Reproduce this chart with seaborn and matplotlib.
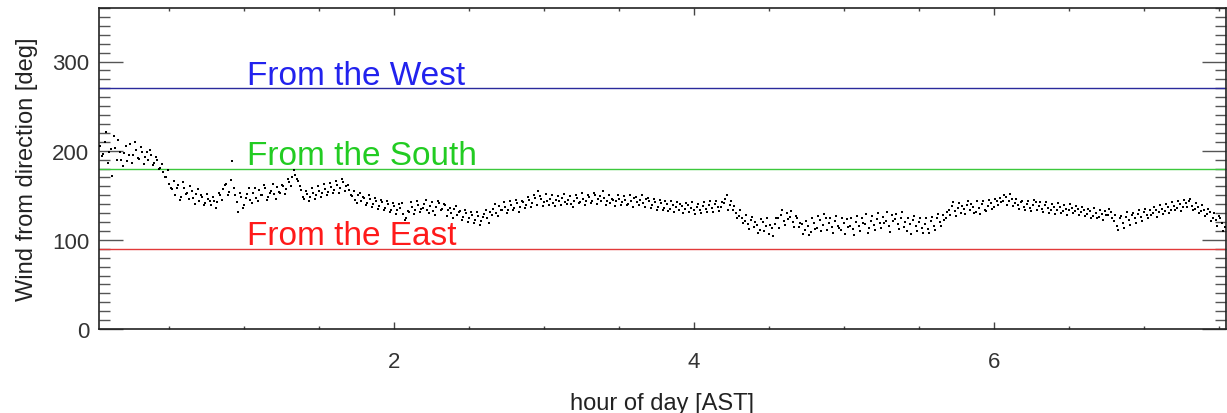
import numpy as np
import pandas as pd
import matplotlib
matplotlib.use("Agg")
import matplotlib.pyplot as plt
from matplotlib.ticker import MultipleLocator
import seaborn as sns

# wind direction samples, every 0.02 h from 0.04 h
t_start = 0.04
t_step = 0.02
wind_dir = [
    # 0.04 - 0.52
    205, 196, 221, 199, 172, 203, 212, 190, 197, 188, 207, 195, 201, 191, 198, 193, 189, 195, 186, 190, 181, 176, 170, 163, 157,
    # 0.54 - 1.02
    150, 162, 148, 158, 153, 160, 147, 151, 144, 148, 141, 146, 139, 144, 142, 150, 157, 163, 154, 188, 150, 131, 148, 139, 151,
    # 1.04 - 1.52
    145, 152, 147, 156, 150, 158, 148, 155, 151, 159, 153, 160, 157, 165, 170, 173, 166, 156, 146, 151, 148, 153, 150, 155, 152,
    # 1.54 - 2.02
    157, 154, 159, 156, 161, 158, 165, 160, 156, 149, 145, 150, 143, 147, 141, 146, 140, 144, 138, 142, 136, 140, 134, 138, 133,
    # 2.04 - 2.52
    136, 129, 125, 131, 137, 133, 139, 135, 140, 134, 138, 132, 137, 141, 135, 139, 133, 130, 135, 128, 132, 126, 130, 124, 128,
    # 2.54 - 3.02
    122, 127, 121, 129, 124, 131, 135, 130, 138, 133, 137, 134, 139, 136, 141, 137, 142, 139, 145, 141, 147, 155, 146, 142, 143,
    # 3.04 - 3.52
    146, 141, 145, 143, 147, 142, 145, 140, 144, 147, 142, 146, 143, 148, 144, 150, 146, 143, 147, 144, 141, 145, 143, 146, 142,
    # 3.54 - 4.02
    145, 140, 144, 147, 142, 145, 141, 146, 143, 139, 142, 137, 141, 136, 140, 135, 139, 137, 134, 138, 135, 139, 136, 133, 137,
    # 4.04 - 4.52
    134, 138, 135, 139, 136, 140, 137, 137, 141, 150, 139, 134, 130, 127, 124, 121, 118, 122, 114, 117, 111, 120, 115, 106, 113,
    # 4.54 - 5.02
    118, 124, 128, 121, 130, 126, 120, 127, 114, 118, 111, 116, 109, 119, 113, 122, 117, 125, 119, 114, 121, 116, 111, 119, 123,
    # 5.04 - 5.52
    116, 112, 120, 115, 124, 118, 108, 121, 117, 123, 119, 126, 121, 115, 128, 123, 118, 124, 114, 110, 118, 122, 115, 120, 113,
    # 5.54 - 6.02
    118, 112, 121, 116, 124, 120, 128, 125, 133, 138, 132, 136, 130, 135, 139, 133, 137, 131, 136, 140, 134, 138, 141, 137, 143,
    # 6.04 - 6.52
    147, 144, 148, 143, 146, 141, 139, 142, 137, 140, 136, 139, 142, 138, 135, 139, 136, 133, 137, 134, 137, 132, 135, 133, 136,
    # 6.54 - 7.02
    132, 135, 131, 134, 129, 132, 127, 130, 126, 129, 132, 128, 131, 121, 116, 124, 119, 126, 122, 128, 124, 129, 126, 131, 128,
    # 7.04 - 7.54
    133, 130, 134, 131, 135, 132, 137, 134, 138, 136, 140, 137, 141, 143, 138, 135, 137, 132, 134, 129, 131, 125, 122, 127, 119, 114,
]

# in-between samples (0.05 h, 0.07 h, ...) showing the spread of the band
t_start_b = 0.05
wind_dir_b = [
    194, 210, 186, 202, 217, 189, 198, 183, 205, 195, 186, 210, 192, 204, 185, 199, 201, 184, 193, 179, 185, 171, 178, 158, 166,
    158, 145, 165, 151, 146, 155, 140, 157, 150, 139, 151, 143, 148, 136, 153, 145, 162, 150, 167, 158, 142, 153, 136, 147, 158,
    141, 158, 144, 150, 161, 145, 152, 163, 146, 154, 162, 151, 168, 160, 178, 168, 160, 148, 155, 143, 158, 146, 160, 148, 163,
    150, 164, 152, 166, 153, 168, 155, 162, 150, 155, 141, 153, 148, 139, 150, 137, 147, 135, 145, 134, 143, 131, 141, 129, 140,
    141, 122, 132, 142, 129, 143, 131, 136, 145, 130, 142, 128, 144, 133, 140, 127, 136, 124, 138, 131, 122, 134, 120, 131, 119,
    131, 117, 126, 133, 119, 128, 140, 127, 134, 142, 130, 143, 133, 145, 131, 144, 136, 148, 137, 150, 139, 149, 138, 151, 139,
    150, 138, 149, 139, 151, 140, 149, 137, 150, 141, 152, 139, 150, 141, 153, 140, 149, 155, 139, 150, 146, 138, 150, 139, 149,
    139, 150, 137, 148, 139, 150, 137, 147, 136, 146, 134, 145, 133, 143, 132, 144, 131, 142, 140, 130, 141, 131, 142, 129, 140,
    130, 142, 131, 143, 131, 144, 132, 142, 146, 133, 143, 138, 125, 133, 119, 128, 112, 126, 120, 108, 123, 110, 124, 117, 104,
    125, 113, 133, 117, 123, 132, 114, 124, 119, 107, 121, 105, 124, 112, 127, 110, 129, 111, 124, 108, 127, 113, 125, 106, 114,
    124, 105, 127, 110, 119, 129, 113, 127, 111, 130, 113, 119, 131, 109, 121, 129, 112, 131, 120, 125, 106, 127, 110, 124, 108,
    124, 108, 126, 111, 129, 115, 122, 131, 128, 142, 127, 141, 138, 129, 143, 140, 130, 143, 129, 144, 132, 145, 135, 146, 139,
    142, 150, 139, 151, 138, 146, 135, 144, 133, 143, 132, 145, 134, 142, 131, 142, 130, 140, 129, 141, 130, 139, 128, 140, 130,
    138, 128, 137, 127, 135, 125, 136, 124, 133, 122, 128, 135, 124, 128, 111, 127, 113, 131, 117, 130, 119, 133, 121, 135, 124,
    128, 137, 126, 139, 129, 140, 130, 142, 133, 144, 132, 145, 137, 146, 134, 141, 130, 139, 127, 135, 121, 130, 115, 124, 110,
]

ref_labels = ["From the West", "From the South", "From the East"]
ref_dirs = [270, 180, 90]
ref_text_colors = ["#2222ee", "#22cc22", "#ff1a1a"]
ref_line_colors = ["#2a2a9c", "#3cc83c", "#e23a3a"]

hours = np.concatenate([t_start + t_step * np.arange(len(wind_dir)),
                        t_start_b + t_step * np.arange(len(wind_dir_b))])
df = pd.DataFrame({"hour": hours, "dir": wind_dir + wind_dir_b})

sns.set_theme(style="ticks")
plt.rcParams["font.family"] = ["Liberation Sans", "DejaVu Sans"]

fig = plt.figure(figsize=(12.27, 4.14), dpi=100)
ax = fig.add_axes([99 / 1227, 84 / 414, 1127 / 1227, 321 / 414])

for lab, d, tc, lc in zip(ref_labels, ref_dirs, ref_text_colors, ref_line_colors):
    ax.axhline(d, color=lc, lw=1.0, zorder=1)
    ax.text(1.02, d + 5, lab, color=tc, fontsize=24, va="baseline", ha="left")

sns.scatterplot(data=df, x="hour", y="dir", ax=ax, color="black", s=4,
                marker="s", linewidth=0, zorder=3)

ax.set_xlim(0.033, 7.547)
ax.set_ylim(0, 360)
ax.xaxis.set_major_locator(MultipleLocator(2))
ax.xaxis.set_minor_locator(MultipleLocator(0.5))
ax.yaxis.set_major_locator(MultipleLocator(100))
ax.yaxis.set_minor_locator(MultipleLocator(10))

ax.tick_params(axis="x", which="major", direction="in", length=5, width=1,
               color="#444444", top=True, pad=16, labelsize=16, labelcolor="#333333")
ax.tick_params(axis="x", which="minor", direction="in", length=2.5, width=1,
               color="#444444", top=True)
ax.tick_params(axis="y", which="major", direction="in", length=17, width=1,
               color="#555555", right=True, pad=7, labelsize=16, labelcolor="#333333")
ax.tick_params(axis="y", which="minor", direction="in", length=8, width=1,
               color="#555555", right=True)

for sp in ax.spines.values():
    sp.set_color("#222222")
    sp.set_linewidth(1.2)

ax.set_xlabel("hour of day [AST]", fontsize=17, color="#222222", labelpad=14)
ax.set_ylabel("Wind from direction [deg]", fontsize=17, color="#222222", labelpad=10)

fig.savefig("out.png", dpi=100)
